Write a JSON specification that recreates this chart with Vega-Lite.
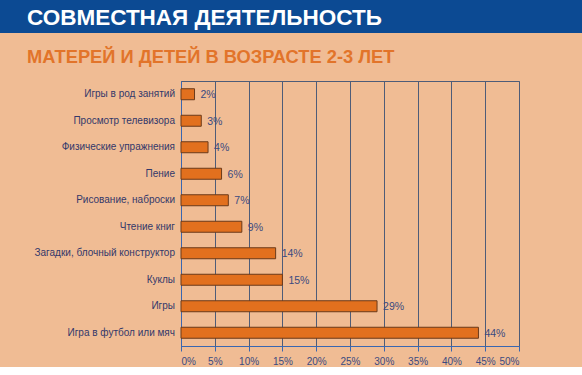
{
  "$schema": "https://vega.github.io/schema/vega-lite/v6.json",
  "background": "#F0BC94",
  "padding": 0,
  "spacing": 14,
  "config": {"view": {"stroke": null}, "font": "Liberation Sans"},
  "datasets": {
    "acts": [
      {"activity": "Игры в род занятий", "pct": 2},
      {"activity": "Просмотр телевизора", "pct": 3},
      {"activity": "Физические упражнения", "pct": 4},
      {"activity": "Пение", "pct": 6},
      {"activity": "Рисование, наброски", "pct": 7},
      {"activity": "Чтение книг", "pct": 9},
      {"activity": "Загадки, блочный конструктор", "pct": 14},
      {"activity": "Куклы", "pct": 15},
      {"activity": "Игры", "pct": 29},
      {"activity": "Игра в футбол или мяч", "pct": 44}
    ]
  },
  "vconcat": [
    {
      "width": 582,
      "height": 33,
      "view": {"fill": "#0C4A93", "stroke": null},
      "data": {"values": [{"t": "СОВМЕСТНАЯ ДЕЯТЕЛЬНОСТЬ"}]},
      "mark": {"type": "text", "align": "left", "baseline": "middle", "dx": 27, "dy": 1, "fontSize": 22.5, "fontWeight": "bold", "color": "#FFFFFF", "font": "Liberation Sans"},
      "encoding": {
        "text": {"field": "t"},
        "x": {"datum": 0, "scale": {"domain": [0, 1]}, "axis": null}
      }
    },
    {
      "hconcat": [
        {
          "width": 181,
          "height": 265,
          "title": {"text": "МАТЕРЕЙ И ДЕТЕЙ В ВОЗРАСТЕ 2-3 ЛЕТ", "anchor": "start", "frame": "group", "dx": 27, "fontSize": 18.3, "fontWeight": "bold", "color": "#E2742A", "font": "Liberation Sans", "offset": 14},
          "data": {"name": "acts"},
          "mark": {"type": "text", "align": "right", "baseline": "middle", "dx": -6, "fontSize": 10, "color": "#33386A", "font": "Liberation Sans"},
          "encoding": {
            "y": {"field": "activity", "type": "nominal", "sort": null, "scale": {"paddingInner": 0.585, "paddingOuter": 0.2925}, "axis": null},
            "x": {"datum": 1, "scale": {"domain": [0, 1]}, "axis": null},
            "text": {"field": "activity"}
          }
        },
        {
          "width": 338,
          "height": 265,
          "view": {"stroke": "#4E5C78", "strokeWidth": 1},
          "data": {"name": "acts"},
          "transform": [{"calculate": "datum.pct + '%'", "as": "label"}],
          "encoding": {
            "y": {
              "field": "activity", "type": "nominal", "sort": null,
              "scale": {"paddingInner": 0.585, "paddingOuter": 0.2925},
              "axis": {"title": null, "ticks": false, "labels": false, "domainColor": "#3A66B0", "domainWidth": 1}
            },
            "x": {
              "field": "pct", "type": "quantitative",
              "scale": {"domain": [0, 50], "nice": false},
              "axis": {"title": null, "values": [0, 5, 10, 15, 20, 25, 30, 35, 40, 45, 50], "labelExpr": "datum.value + '%'", "grid": true, "gridColor": "#4E5C78", "gridWidth": 1, "domainColor": "#3A66B0", "tickColor": "#3A66B0", "tickSize": 5, "labelColor": "#3A4A80", "labelFontSize": 10, "labelFont": "Liberation Sans", "labelPadding": 5}
            }
          },
          "layer": [
            {"mark": {"type": "bar", "fill": "#E2701E", "stroke": "#6B3A1A", "strokeWidth": 1}},
            {
              "mark": {"type": "text", "align": "left", "baseline": "middle", "dx": 6, "dy": 1, "fontSize": 10.5, "color": "#3A4A80", "font": "Liberation Sans"},
              "encoding": {"text": {"field": "label"}}
            }
          ]
        }
      ],
      "spacing": 0,
      "bounds": "flush"
    }
  ]
}
